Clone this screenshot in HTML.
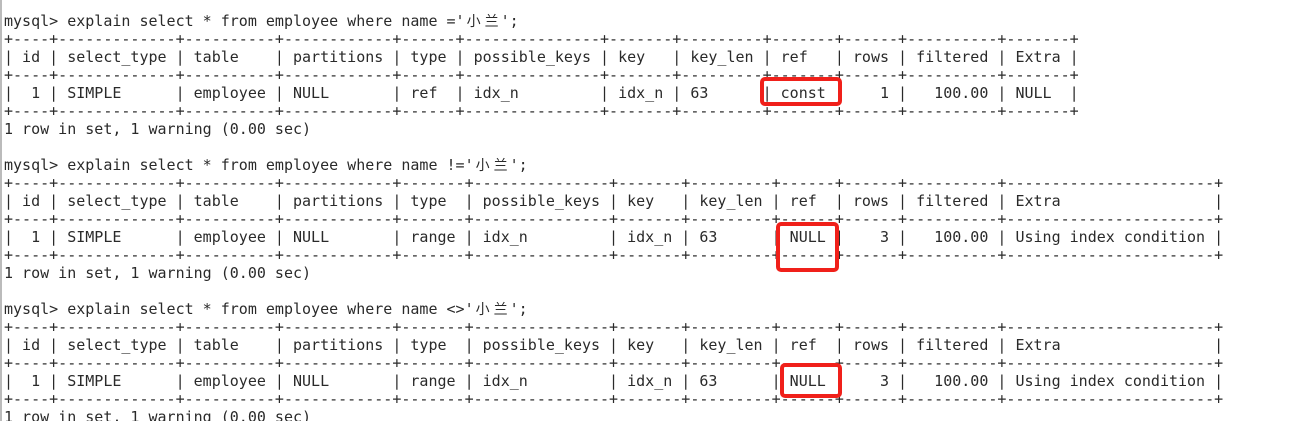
<!DOCTYPE html>
<html><head><meta charset="utf-8"><style>
html,body{margin:0;padding:0;background:#fff;width:1303px;height:421px;overflow:hidden;position:relative}
pre{position:absolute;left:4px;top:12px;margin:0;font-family:"DejaVu Sans Mono","Liberation Mono","Noto Sans CJK SC",monospace;font-size:15px;line-height:18px;color:#2a2a2a;letter-spacing:0}
.c{display:inline-block;width:18px;text-align:center;font-family:"Noto Sans CJK SC",sans-serif;font-size:14px;line-height:18px;vertical-align:top}
.bar{position:absolute;left:0;top:0;width:2px;height:421px;background:#bbb}
.box{position:absolute;border:4px solid #f0201a;border-radius:5px;box-sizing:border-box}
</style></head><body>
<div class="bar"></div>
<pre>mysql&gt; explain select * from employee where name ='<span class="c">小</span><span class="c">兰</span>';
+----+-------------+----------+------------+------+---------------+-------+---------+-------+------+----------+-------+
| id | select_type | table    | partitions | type | possible_keys | key   | key_len | ref   | rows | filtered | Extra |
+----+-------------+----------+------------+------+---------------+-------+---------+-------+------+----------+-------+
|  1 | SIMPLE      | employee | NULL       | ref  | idx_n         | idx_n | 63      | const |    1 |   100.00 | NULL  |
+----+-------------+----------+------------+------+---------------+-------+---------+-------+------+----------+-------+
1 row in set, 1 warning (0.00 sec)

mysql&gt; explain select * from employee where name !='<span class="c">小</span><span class="c">兰</span>';
+----+-------------+----------+------------+-------+---------------+-------+---------+------+------+----------+-----------------------+
| id | select_type | table    | partitions | type  | possible_keys | key   | key_len | ref  | rows | filtered | Extra                 |
+----+-------------+----------+------------+-------+---------------+-------+---------+------+------+----------+-----------------------+
|  1 | SIMPLE      | employee | NULL       | range | idx_n         | idx_n | 63      | NULL |    3 |   100.00 | Using index condition |
+----+-------------+----------+------------+-------+---------------+-------+---------+------+------+----------+-----------------------+
1 row in set, 1 warning (0.00 sec)

mysql&gt; explain select * from employee where name &lt;&gt;'<span class="c">小</span><span class="c">兰</span>';
+----+-------------+----------+------------+-------+---------------+-------+---------+------+------+----------+-----------------------+
| id | select_type | table    | partitions | type  | possible_keys | key   | key_len | ref  | rows | filtered | Extra                 |
+----+-------------+----------+------------+-------+---------------+-------+---------+------+------+----------+-----------------------+
|  1 | SIMPLE      | employee | NULL       | range | idx_n         | idx_n | 63      | NULL |    3 |   100.00 | Using index condition |
+----+-------------+----------+------------+-------+---------------+-------+---------+------+------+----------+-----------------------+
1 row in set, 1 warning (0.00 sec)</pre>
<div class="box" style="left:760px;top:77px;width:82px;height:29px"></div>
<div class="box" style="left:776px;top:222px;width:63px;height:50px"></div>
<div class="box" style="left:780px;top:363px;width:62px;height:35px"></div>
</body></html>
